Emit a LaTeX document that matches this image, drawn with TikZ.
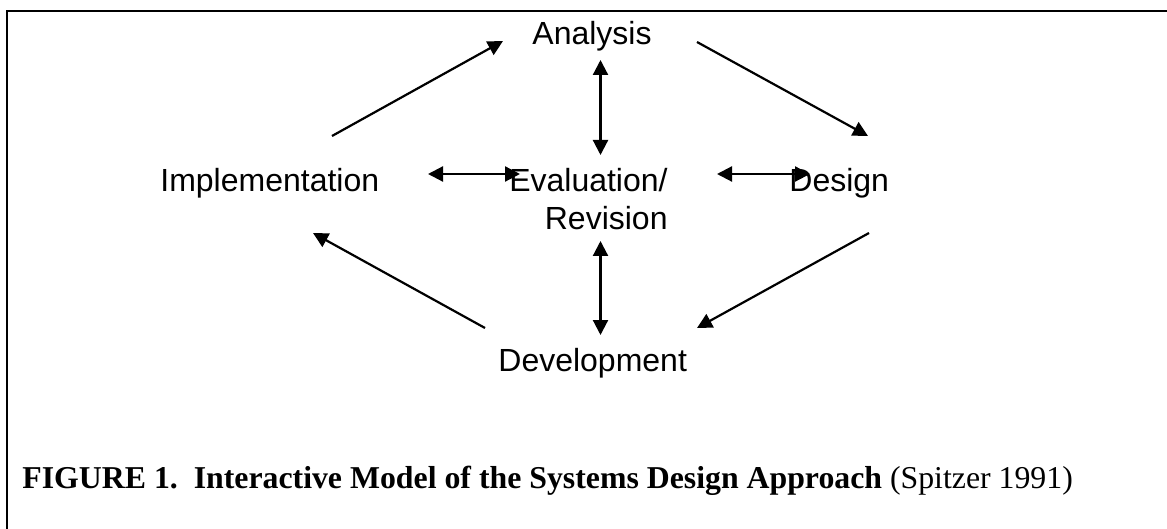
\documentclass[tikz,border=0pt]{standalone}
\usepackage{fontspec}
\setmainfont{Liberation Serif}
\newfontfamily\diagfont{Liberation Sans}
\usetikzlibrary{arrows.meta}
\tikzstyle{stage} = [font=\diagfont\fontsize{16}{19}\selectfont, inner sep=0pt]
\tikzstyle{caption} = [font=\fontsize{15.9}{19}\selectfont, inner sep=0pt, anchor=base west]
\tikzstyle{connector} = [line width=1.1pt, -{Triangle[length=7.5pt,width=7.5pt]}]
\tikzstyle{biconnector} = [line width=1.1pt, {Triangle[length=7.5pt,width=7.5pt]}-{Triangle[length=7.5pt,width=7.5pt]}]

\begin{document}
\begin{tikzpicture}[x=0.5pt, y=-0.5pt]
        \useasboundingbox (0,0) rectangle (1167,529);
        \draw [line width=1pt] (7,529) -- (7,11) -- (1167,11);
        \node (analysis) [stage, anchor=base west] at (532,44.5) {Analysis};
        \node (implementation) [stage, anchor=base west] at (160,192) {Implementation};
        \node (evaluation) [stage, anchor=base east, align=right] at (668,230) {Evaluation/\\Revision};
        \node (design) [stage, anchor=base west] at (789,192) {Design};
        \node (development) [stage, anchor=base west] at (498,371) {Development};
        \node (caption) [caption] at (22,488) {\textbf{FIGURE 1.\ \ Interactive Model of the Systems Design Approach} (Spitzer 1991)};
        % arrow ends
        \coordinate (implementation-out) at (332,136);
        \coordinate (analysis-in) at (503,41);
        \coordinate (analysis-out) at (697,42);
        \coordinate (design-in) at (868,136);
        \coordinate (design-out) at (869,233);
        \coordinate (development-in) at (697,328);
        \coordinate (development-out) at (485,328);
        \coordinate (implementation-in) at (313,233);
        \coordinate (analysis-low) at (600.5,60);
        \coordinate (evaluation-high) at (600.5,155);
        \coordinate (evaluation-low) at (600.5,241);
        \coordinate (development-high) at (600.5,335);
        \coordinate (implementation-right) at (428,174);
        \coordinate (evaluation-left) at (520,174);
        \coordinate (evaluation-right) at (717,174);
        \coordinate (design-left) at (810,174);
        \draw [connector] (implementation-out) -- (analysis-in);
        \draw [connector] (analysis-out) -- (design-in);
        \draw [connector] (design-out) -- (development-in);
        \draw [connector] (development-out) -- (implementation-in);
        \draw [biconnector] (analysis-low) -- (evaluation-high);
        \draw [biconnector] (evaluation-low) -- (development-high);
        \draw [biconnector] (implementation-right) -- (evaluation-left);
        \draw [biconnector] (evaluation-right) -- (design-left);
    \end{tikzpicture}
\end{document}
